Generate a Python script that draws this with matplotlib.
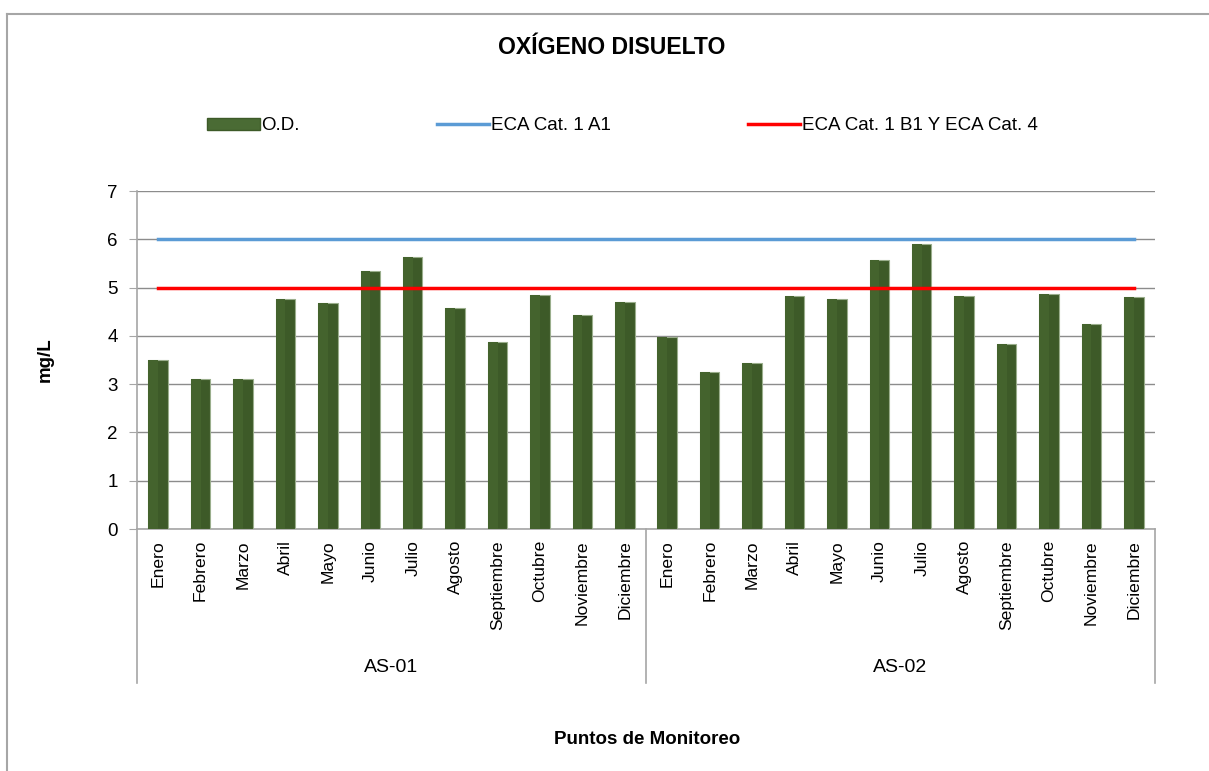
import matplotlib
matplotlib.use("Agg")
import matplotlib.pyplot as plt
from matplotlib.lines import Line2D
from matplotlib.patches import Rectangle
import numpy as np

plt.rcParams['font.family'] = ['Liberation Sans', 'DejaVu Sans']

# ----- DATA -----
months = ["Enero", "Febrero", "Marzo", "Abril", "Mayo", "Junio", "Julio",
          "Agosto", "Septiembre", "Octubre", "Noviembre", "Diciembre"]
stations = ["AS-01", "AS-02"]
od_as01 = [3.49, 3.10, 3.10, 4.77, 4.69, 5.35, 5.64, 4.58, 3.87, 4.85, 4.44, 4.71]
od_as02 = [3.97, 3.26, 3.44, 4.83, 4.77, 5.58, 5.90, 4.82, 3.84, 4.87, 4.24, 4.80]
eca_a1 = 6
eca_b1 = 5

values = od_as01 + od_as02
labels = months * len(stations)
x = np.arange(len(values))

W, H = 1209, 771
fig = plt.figure(figsize=(W / 100, H / 100), dpi=100)

# chart border (only top and left are visible in the crop)
fig.add_artist(Line2D([7 / W, 1], [1 - 13.5 / H, 1 - 13.5 / H],
                      transform=fig.transFigure, color='#a6a6a6', linewidth=1.5))
fig.add_artist(Line2D([7 / W, 7 / W], [0, 1 - 13.5 / H],
                      transform=fig.transFigure, color='#a6a6a6', linewidth=1.5))

# plot area
left, right, top, bottom = 137, 1155, 191, 529
ax = fig.add_axes([left / W, 1 - bottom / H, (right - left) / W, (bottom - top) / H])

ax.bar(x, values, width=0.46, color='#3d5a28', edgecolor='#9aae8c',
       linewidth=0.8, zorder=3)
# lighter left half for the bevel look
ax.bar(x - 0.115, values, width=0.23, color='#44632d', linewidth=0, zorder=3)

ax.plot([x[0], x[-1]], [eca_a1, eca_a1], color='#5b9bd5', linewidth=2.5, zorder=4)
ax.plot([x[0], x[-1]], [eca_b1, eca_b1], color='#ff0000', linewidth=2.5, zorder=4)

ax.set_xlim(-0.5, len(values) - 0.5)
ax.set_ylim(0, 7)
ax.set_yticks(range(0, 8))
ax.yaxis.grid(True, color='#8c8c8c', linewidth=1)
ax.set_axisbelow(True)
for s in ['top', 'right']:
    ax.spines[s].set_visible(False)
ax.spines['left'].set_color('#a6a6a6')
ax.spines['bottom'].set_color('#a6a6a6')
ax.spines['left'].set_linewidth(1.2)
ax.spines['bottom'].set_linewidth(1.2)
ax.tick_params(axis='y', length=6, color='#a6a6a6', labelsize=13.5, pad=8)
ax.set_xticks(x)
ax.set_xticklabels(labels, rotation=90, fontsize=12.6)
ax.tick_params(axis='x', length=0, pad=8)

# category axis dividers
trans = ax.get_xaxis_transform()
low = -(683 - bottom) / (bottom - top)
for xv in [-0.5, 11.5, 23.5]:
    ax.plot([xv, xv], [0, low], transform=trans, color='#a6a6a6',
            linewidth=1.2, clip_on=False)
for i, st in enumerate(stations):
    ax.text(5.5 + 12 * i, -(668 - bottom) / (bottom - top), st, transform=trans,
            ha='center', va='center', fontsize=14)

fig.text(612 / W, 1 - 47 / H, "OXÍGENO DISUELTO", ha='center', va='center',
         fontsize=16.6, fontweight='bold')
fig.text(45 / W, 1 - 360 / H, "mg/L", ha='center', va='center', rotation=90,
         fontsize=13.5, fontweight='bold')
fig.text(647 / W, 1 - 740 / H, "Puntos de Monitoreo", ha='center', va='center',
         fontsize=13.5, fontweight='bold')

handles = [Rectangle((0, 0), 1, 1, facecolor='#4a6b34', edgecolor='#3d5a28'),
           Line2D([0], [0], color='#5b9bd5', linewidth=2.5),
           Line2D([0], [0], color='#ff0000', linewidth=2.5)]
fig.legend(handles, ["O.D.", "ECA Cat. 1 A1", "ECA Cat. 1 B1 Y ECA Cat. 4"],
           loc='center left', bbox_to_anchor=(207 / W, 1 - 126 / H), ncol=3,
           frameon=False, fontsize=13.5, handlelength=2.8, handleheight=0.6,
           handletextpad=0.1, columnspacing=7.3, borderpad=0, borderaxespad=0)

fig.savefig("out.png", dpi=100)
